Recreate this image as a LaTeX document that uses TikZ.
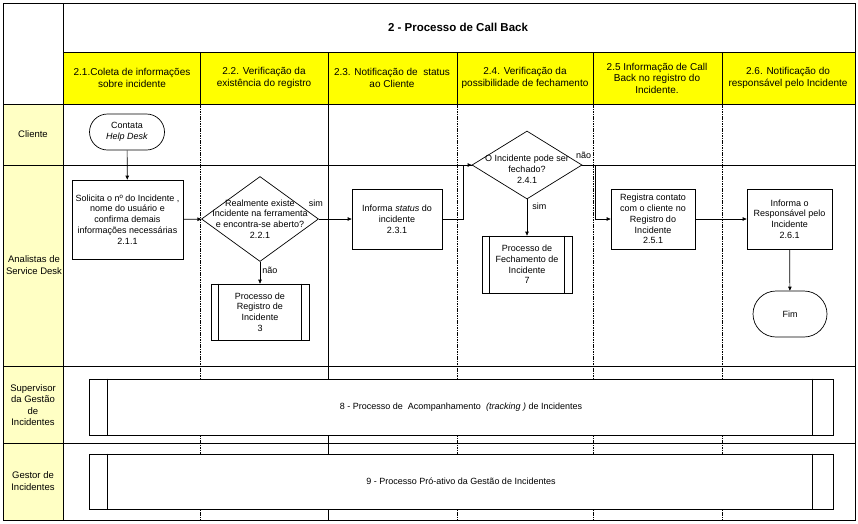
\documentclass[tikz,border=0pt]{standalone}
\usepackage{fontspec}
\setmainfont{Liberation Sans}
\usetikzlibrary{arrows.meta,shapes.geometric,shapes.misc,positioning,calc}
\definecolor{hdryellow}{RGB}{255,255,0}
\definecolor{lanecream}{RGB}{255,255,196}

\begin{document}
\begin{tikzpicture}[x=1pt,y=-1pt,>={Triangle[length=4pt,width=3.5pt]},
    every node/.style={font=\fontsize{9}{10.8}\selectfont,align=center,inner sep=1pt},
    grid/.style={line width=0.8pt},
    lanesep/.style={line width=0.8pt,dash pattern=on 1.6pt off 0.8pt},
    act/.style={draw,fill=white,rectangle,line width=0.7pt},
    term/.style={draw,fill=white,rounded rectangle,line width=0.7pt},
    decision/.style={draw,fill=white,diamond,inner sep=0pt,line width=0.7pt},
    subproc/.style={draw,fill=white,rectangle,line width=0.7pt},
    flow/.style={->,line width=0.7pt},
    hdr/.style={font=\fontsize{10}{11.5}\selectfont},
    lane/.style={font=\fontsize{9.5}{11.5}\selectfont}]

  \useasboundingbox (0,0) rectangle (858,523);

  % table
  \fill[hdryellow] (63,52) rectangle (855,104);
  \fill[lanecream] (3,104) rectangle (63,520);
  \draw[grid] (3,3) rectangle (855,520);
  \draw[grid] (63,3) -- (63,520);
  \draw[grid] (63,52) -- (855,52);
  \foreach \y in {104,165,366,443}
    \draw[grid] (3,\y) -- (855,\y);
  \foreach \x in {200,328,457,593,722}
    \draw[grid] (\x,52) -- (\x,104);
  \draw[grid] (328,104) -- (328,520);
  \foreach \x in {200,457,593,722}
    \draw[lanesep] (\x,104) -- (\x,520);

  \node[font=\fontsize{11.5}{13}\selectfont\bfseries] (title) at (458,27) {2 - Processo de Call Back};

  \node[hdr] (h1) at (132,78) {2.1.Coleta de informações\\sobre incidente};
  \node[hdr] (h2) at (264,78) {2.2. Verificação da\\existência do registro};
  \node[hdr] (h3) at (392,78) {2.3. Notificação de \ status\\ao Cliente};
  \node[hdr] (h4) at (525,78) {2.4. Verificação da\\possibilidade de fechamento};
  \node[hdr] (h5) at (657,78) {2.5 Informação de Call\\Back no registro do\\Incidente.};
  \node[hdr] (h6) at (788,78) {2.6. Notificação do\\responsável pelo Incidente};

  \node[lane] (cliente) at (33,134) {Cliente};
  \node[lane] (analistas) at (34,265) {Analistas de\\Service Desk};
  \node[lane] (supervisor) at (33,405) {Supervisor\\da Gestão\\de\\Incidentes};
  \node[lane] (gestor) at (33,481) {Gestor de\\Incidentes};

  % steps
  \node[term, minimum width=77pt, minimum height=36pt] (contata) at (127,132) {Contata\\\textit{Help Desk}};
  \node[act, minimum width=111pt, minimum height=79pt] (solicita) at (127.5,219.5)
    {Solicita o nº do Incidente ,\\nome do usuário e\\confirma demais\\informações necessárias\\2.1.1};
  \node[decision, minimum width=117pt, minimum height=85pt,
    label={[align=center]center:Realmente existe\\Incidente na ferramenta\\e encontra-se aberto?\\2.2.1}] (existe) at (260,219) {};
  \node[subproc, minimum width=98pt, minimum height=56pt] (registro) at (260,312) {Processo de\\Registro de\\Incidente\\3};
  \node[act, minimum width=90pt, minimum height=60pt] (status) at (397,219) {Informa \textit{status} do\\incidente\\2.3.1};
  \node[decision, minimum width=110pt, minimum height=68pt,
    label={[align=center,yshift=-4pt]center:O Incidente pode ser\\fechado?\\2.4.1}] (fechar) at (527,165) {};
  \node[subproc, minimum width=90pt, minimum height=57pt] (fechamento) at (527,264.5) {Processo de\\Fechamento de\\Incidente\\7};
  \node[act, minimum width=84pt, minimum height=60pt] (registra) at (653,219) {Registra contato\\com o cliente no\\Registro do\\Incidente\\2.5.1};
  \node[act, minimum width=85pt, minimum height=60pt] (responsavel) at (789.5,219) {Informa o\\Responsável pelo\\Incidente\\2.6.1};
  \node[term, minimum width=76pt, minimum height=46pt] (fim) at (790,314) {Fim};

  \node[subproc, minimum width=744pt, minimum height=56pt] (tracking) at (461,407)
    {8 - Processo de \ Acompanhamento \ \textit{(tracking )} de Incidentes};
  \node[subproc, minimum width=744pt, minimum height=55pt] (proativo) at (461,481.5)
    {9 - Processo Pró-ativo da Gestão de Incidentes};

  % side bars of the sub-processes
  \foreach \n in {registro,fechamento}
    \draw[line width=0.7pt] ($(\n.north west)+(8,0)$) -- ($(\n.south west)+(8,0)$)
      ($(\n.north east)+(-8,0)$) -- ($(\n.south east)+(-8,0)$);
  \foreach \n in {tracking,proativo}
    \draw[line width=0.7pt] ($(\n.north west)+(19,0)$) -- ($(\n.south west)+(19,0)$)
      ($(\n.north east)+(-21,0)$) -- ($(\n.south east)+(-21,0)$);

  % connectors
  \draw[flow] (contata) -- (solicita);
  \draw[flow] (solicita) -- (existe);
  \draw[flow] (existe) -- node[above=11pt, pos=0, xshift=-3pt] {sim} (status);
  \draw[flow] (existe) -- node[right, pos=0.4, xshift=1pt] {não} (registro);
  \draw[flow] (status.east) -- ++(21,0) |- (fechar.west);
  \draw[flow] (fechar) -- node[right, pos=0.2, xshift=4pt] {sim} (fechamento);
  \draw[flow] (fechar.east) -- node[above, pos=0.1, yshift=5pt] {não} ++(13,0) |- (registra.west);
  \draw[flow] (registra) -- (responsavel);
  \draw[flow] (responsavel) -- (fim);
\end{tikzpicture}
\end{document}
